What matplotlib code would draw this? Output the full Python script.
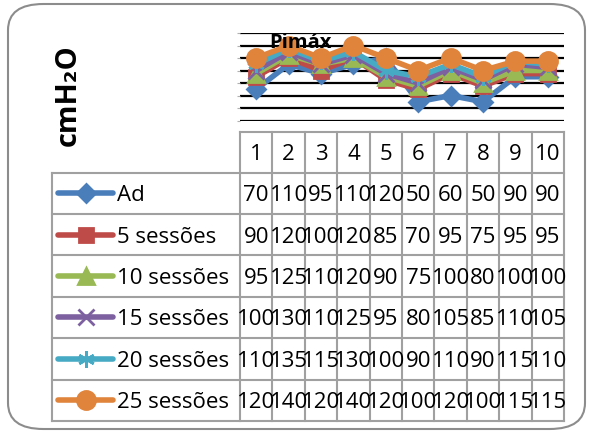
import matplotlib
matplotlib.use('Agg')
import matplotlib.pyplot as plt
from matplotlib.patches import FancyBboxPatch
from matplotlib.lines import Line2D

plt.rcParams['font.family'] = ['Open Sans', 'DejaVu Sans']

# ---- data
sessoes = [1, 2, 3, 4, 5, 6, 7, 8, 9, 10]
ad = [70, 110, 95, 110, 120, 50, 60, 50, 90, 90]
s5 = [90, 120, 100, 120, 85, 70, 95, 75, 95, 95]
s10 = [95, 125, 110, 120, 90, 75, 100, 80, 100, 100]
s15 = [100, 130, 110, 125, 95, 80, 105, 85, 110, 105]
s20 = [110, 135, 115, 130, 100, 90, 110, 90, 115, 110]
s25 = [120, 140, 120, 140, 120, 100, 120, 100, 115, 115]
nomes = ['Ad', '5 sessões', '10 sessões', '15 sessões', '20 sessões', '25 sessões']
series = [ad, s5, s10, s15, s20, s25]
cores = ['#4A7EBB', '#BE4B48', '#98B954', '#7D60A0', '#46AAC5', '#E0843C']
marcadores = ['D', 's', '^', 'x', (6, 2, 0), 'o']
msizes = [9, 10, 12, 11, 12, 13]

W, H = 590, 435
fig = plt.figure(figsize=(W / 100, H / 100), dpi=100)

def fx(px):
    return px / W

def fy(py):
    return 1 - py / H

# rounded outer frame
frame = FancyBboxPatch((fx(8), fy(430)), fx(577), (430 - 5) / H,
                       boxstyle='round,pad=0,rounding_size=0.06',
                       transform=fig.transFigure, fc='none', ec='#8C8C8C', lw=1.5, zorder=-1)
fig.patches.append(frame)

# ---- plot area
x0, x1, ytop, ybot = 240, 564, 34, 121.5
ax = fig.add_axes([fx(x0), fy(ybot), fx(x1 - x0), (ybot - ytop) / H])
ax.set_facecolor('none')
for nome, vals, c, m, ms in zip(nomes, series, cores, marcadores, msizes):
    ax.plot(sessoes, vals, color=c, lw=4, marker=m, ms=ms, mfc=c, mec=c, mew=2,
            solid_joinstyle='round', clip_on=False)
ax.set_xlim(0.5, 10.5)
ax.set_ylim(20, 160)
ax.set_yticks(range(20, 161, 20))
ax.yaxis.grid(True, color='black', lw=1.6)
ax.set_axisbelow(True)
ax.set_xticks([])
ax.tick_params(axis='y', length=2, color='#B0B0B0', labelleft=False)
for s in ax.spines.values():
    s.set_visible(False)
ax.text(0.185, 0.9, 'Pimáx', transform=ax.transAxes, ha='center', va='center',
        fontsize=14.5, fontweight='bold', zorder=10)

fig.text(fx(68), fy(95), 'cmH₂O', rotation=90, ha='center', va='center',
         fontsize=21, fontweight='bold')

# ---- data table
tab = fig.add_axes([0, 0, 1, 1])
tab.set_xlim(0, W)
tab.set_ylim(H, 0)
tab.axis('off')
tab.patch.set_alpha(0)

gc = '#A0A0A0'
col_w = (x1 - x0) / len(sessoes)
hdr_top, hdr_bot, tab_bot, leg_left = 133, 173.5, 422, 52
row_h = (tab_bot - hdr_bot) / len(nomes)
fs = 16

# header
for i, s in enumerate(sessoes):
    cx = x0 + (i + 0.5) * col_w
    tab.text(cx, (hdr_top + hdr_bot) / 2 + 1, str(s), ha='center', va='center', fontsize=fs)
# vertical lines
for i in range(len(sessoes) + 1):
    tab.plot([x0 + i * col_w] * 2, [hdr_top, tab_bot], color=gc, lw=1.5)
tab.plot([leg_left] * 2, [hdr_bot, tab_bot], color=gc, lw=1.5)
tab.plot([x0, x1], [hdr_top, hdr_top], color=gc, lw=1.5)
for r in range(len(nomes) + 1):
    yy = hdr_bot + r * row_h
    tab.plot([leg_left, x1], [yy, yy], color=gc, lw=1.5)

for r, (nome, vals, c, m, ms) in enumerate(zip(nomes, series, cores, marcadores, msizes)):
    cy = hdr_bot + (r + 0.5) * row_h
    tab.add_line(Line2D([58, 113], [cy, cy], color=c, lw=4, solid_capstyle='round'))
    tab.add_line(Line2D([86], [cy], marker=m, ms=ms, mfc=c, mec=c, mew=2, color=c))
    tab.text(117, cy + 1.5, nome, ha='left', va='center', fontsize=fs)
    for i, v in enumerate(vals):
        cx = x0 + (i + 0.5) * col_w
        tab.text(cx, cy + 1.5, str(v), ha='center', va='center', fontsize=fs)

fig.savefig('out.png', dpi=100)
